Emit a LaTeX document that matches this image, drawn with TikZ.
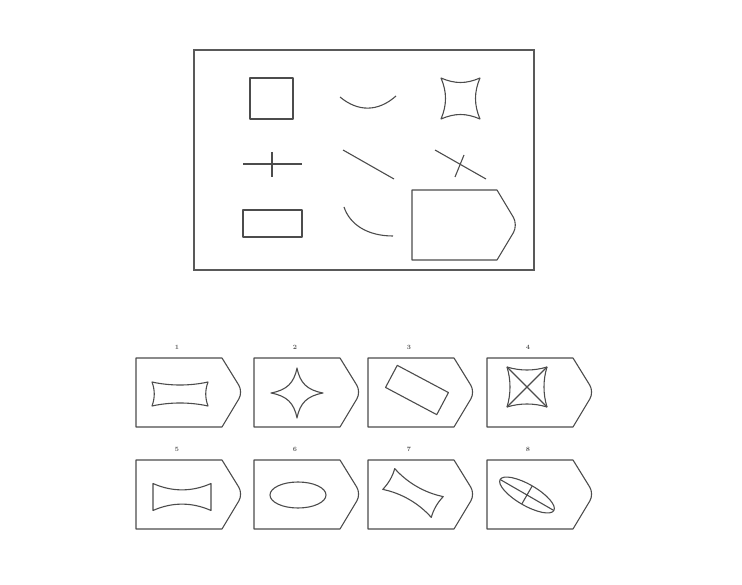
\documentclass[tikz,border=0pt]{standalone}
\begin{document}
\begin{tikzpicture}[x=1pt,y=-1pt,
  ln/.style={draw=black!70,line width=1.1pt,line join=round},
  frame/.style={draw=black!65,line width=1.6pt},
  lbl/.style={font=\fontsize{6.5}{6.5}\selectfont\bfseries,text=black!65,inner sep=0pt}]
\useasboundingbox (0,0) rectangle (742,585);
% main frame
\draw[frame] (194,50) rectangle (534,270);
% row 1
\draw[ln] (250,78) rectangle (293,119);
\draw[ln] (340,97) .. controls (358,112) and (378,112) .. (396,96);
\draw[ln] (441,78) .. controls (455,84) and (466,84) .. (480,78)
  .. controls (474,92) and (474,105) .. (480,119)
  .. controls (466,113) and (455,113) .. (441,119)
  .. controls (447,105) and (447,92) .. (441,78) -- cycle;
% row 2
\draw[ln] (243,164) -- (302,164);
\draw[ln] (272,152) -- (272,177);
\draw[ln] (343,150) -- (394,179);
\draw[ln] (435,150) -- (486,179);
\draw[ln] (464,155) -- (455,177);
% row 3
\draw[ln] (243,210) rectangle (302,237);
\draw[ln] (344,207) .. controls (350,225) and (368,236) .. (393,236);
\draw[ln] (412,190) -- (497,190) [rounded corners=9pt] -- (518,225) [sharp corners] -- (497,260) -- (412,260) -- cycle;
% option boxes
\foreach \n/\x/\y in {1/136/358,2/254/358,3/368/358,4/487/358,5/136/460,6/254/460,7/368/460,8/487/460}{
  \draw[ln] (\x,\y) -- ++(86,0) [rounded corners=8pt] -- ++(21,34) [sharp corners] -- ++(-21,35) -- ++(-86,0) -- cycle;
  \node[lbl] (l\n) at (\x+41,\y-11) {\n};
}
% 1: concave rectangle
\begin{scope}[shift={(180,394)}]
\draw[ln] (-28,-12) .. controls (-10,-8) and (10,-8) .. (28,-12)
  .. controls (25,-4) and (25,4) .. (28,12)
  .. controls (10,8) and (-10,8) .. (-28,12)
  .. controls (-25,4) and (-25,-4) .. (-28,-12) -- cycle;
\end{scope}
% 2: four-pointed star
\begin{scope}[shift={(297,393)}]
\draw[ln] (0,-25) .. controls (3,-10) and (10,-3) .. (26,0)
  .. controls (10,3) and (3,10) .. (0,25)
  .. controls (-3,10) and (-10,3) .. (-26,0)
  .. controls (-10,-3) and (-3,-10) .. (0,-25) -- cycle;
\end{scope}
% 3: tilted rectangle
\begin{scope}[shift={(417,390)},rotate=-28]
\draw[ln] (-29,-12.5) rectangle (29,12.5);
\end{scope}
% 4: concave square with diagonals
\begin{scope}[shift={(527,387)}]
\draw[ln] (-20,-20) .. controls (-7,-16) and (7,-16) .. (20,-20)
  .. controls (16,-7) and (16,7) .. (20,20)
  .. controls (7,16) and (-7,16) .. (-20,20)
  .. controls (-16,7) and (-16,-7) .. (-20,-20) -- cycle;
\draw[ln] (-20,-20) -- (20,20);
\draw[ln] (20,-20) -- (-20,20);
\end{scope}
% 5: bow shape
\begin{scope}[shift={(182,497)}]
\draw[ln] (-29,-13.5) .. controls (-10,-5) and (10,-5) .. (29,-13.5)
  -- (29,13.5)
  .. controls (10,5) and (-10,5) .. (-29,13.5) -- cycle;
\end{scope}
% 6: ellipse
\draw[ln] (298,495) ellipse [x radius=28, y radius=13];
% 7: tilted concave shape
\begin{scope}[shift={(413,493)},rotate=-30]
\draw[ln] (-28,-12) .. controls (-10,-6) and (10,-6) .. (28,-12)
  .. controls (26,-4) and (26,4) .. (28,12)
  .. controls (10,6) and (-10,6) .. (-28,12)
  .. controls (-26,4) and (-26,-4) .. (-28,-12) -- cycle;
\end{scope}
% 8: tilted ellipse with axes
\begin{scope}[shift={(527,495)},rotate=-30]
\draw[ln] (0,0) ellipse [x radius=31, y radius=10.5];
\draw[ln] (-31,0) -- (31,0);
\draw[ln] (0,-10.5) -- (0,10.5);
\end{scope}
\end{tikzpicture}
\end{document}
